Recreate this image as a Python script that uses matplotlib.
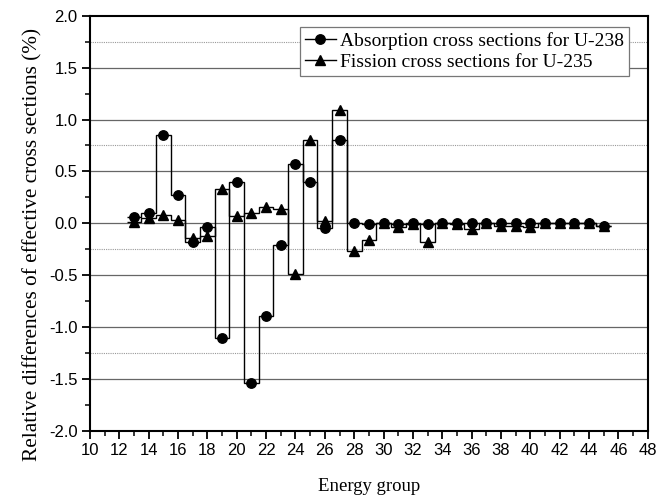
import numpy as np
import matplotlib
matplotlib.use('Agg')
import matplotlib.pyplot as plt
from matplotlib.lines import Line2D
from matplotlib.ticker import MultipleLocator, FormatStrFormatter

plt.rcParams['axes.unicode_minus'] = False

groups = list(range(13, 46))

absorption_u238 = [
    0.06, 0.10, 0.85, 0.27, -0.18, -0.04, -1.11, 0.40, -1.54, -0.89,
    -0.21, 0.57, 0.40, -0.05, 0.80, 0.00, -0.01, 0.00, -0.01, 0.00,
    -0.01, 0.00, 0.00, 0.00, 0.00, 0.00, 0.00, 0.00, 0.00, 0.00,
    0.00, 0.00, -0.03,
]

fission_u235 = [
    0.01, 0.05, 0.08, 0.03, -0.14, -0.12, 0.33, 0.07, 0.10, 0.16,
    0.14, -0.49, 0.80, 0.02, 1.09, -0.27, -0.16, 0.00, -0.04, -0.01,
    -0.18, 0.00, -0.01, -0.06, 0.00, -0.03, -0.03, -0.04, 0.00, 0.00,
    0.00, 0.00, -0.03,
]

solid_levels = [-1.5, -1.0, -0.5, 0.0, 0.5, 1.0, 1.5]
dotted_levels = [1.75, 0.75, -0.25, -1.25]

fig = plt.figure(figsize=(6.68, 4.95), dpi=100)
ax = fig.add_axes([0.1347, 0.130, 0.835, 0.838])

for lv in solid_levels:
    ax.axhline(lv, color='#666666', linewidth=0.9, zorder=1)
for lv in dotted_levels:
    ax.axhline(lv, color='#999999', linewidth=0.8, linestyle=(0, (1, 1)), zorder=1)

# each group is a bar of width 1 centred on its number
x = np.array(groups)
edges = np.append(x - 0.5, x[-1] + 0.5)

ax.stairs(absorption_u238, edges, baseline=None, color='black', linewidth=1.0, zorder=3)
ax.stairs(fission_u235, edges, baseline=None, color='black', linewidth=1.0, zorder=3)
ax.plot(x, absorption_u238, 'o', color='black', markersize=6.8, zorder=4)
ax.plot(x, fission_u235, '^', color='black', markersize=7, zorder=4)

ax.set_xlim(10, 48)
ax.set_ylim(-2.0, 2.0)
ax.xaxis.set_major_locator(MultipleLocator(2))
ax.xaxis.set_minor_locator(MultipleLocator(1))
ax.yaxis.set_major_locator(MultipleLocator(0.5))
ax.yaxis.set_minor_locator(MultipleLocator(0.25))
ax.yaxis.set_major_formatter(FormatStrFormatter('%.1f'))

ax.tick_params(which='major', direction='out', length=6, width=1.3,
               labelsize=12, pad=3)
ax.tick_params(which='minor', direction='out', length=3.5, width=1.1)
for lab in ax.get_xticklabels() + ax.get_yticklabels():
    lab.set_family('Liberation Sans')
for side in ['left', 'bottom', 'right', 'top']:
    ax.spines[side].set_linewidth(1.5)

ax.set_xlabel('Energy group', family='Liberation Serif', fontsize=13.5, labelpad=14)
ax.set_ylabel('Relative differences of effective cross sections (%)',
              family='Liberation Serif', fontsize=15.3)
ax.yaxis.set_label_coords(-0.085, 0.448)

handles = [
    Line2D([], [], color='black', marker='o', markersize=6.8, linewidth=1.0),
    Line2D([], [], color='black', marker='^', markersize=7, linewidth=1.0),
]
leg = ax.legend(handles, ['Absorption cross sections for U-238',
                          'Fission cross sections for U-235'],
                loc='upper right', bbox_to_anchor=(0.966, 0.972),
                prop={'family': 'Liberation Serif', 'size': 14},
                fancybox=False, framealpha=1, edgecolor='#777777',
                handlelength=1.6, handletextpad=0.2, borderpad=0.25,
                labelspacing=0.15, borderaxespad=0)
leg.get_frame().set_linewidth(0.9)
leg.set_zorder(5)

fig.savefig('out.png', dpi=100)
